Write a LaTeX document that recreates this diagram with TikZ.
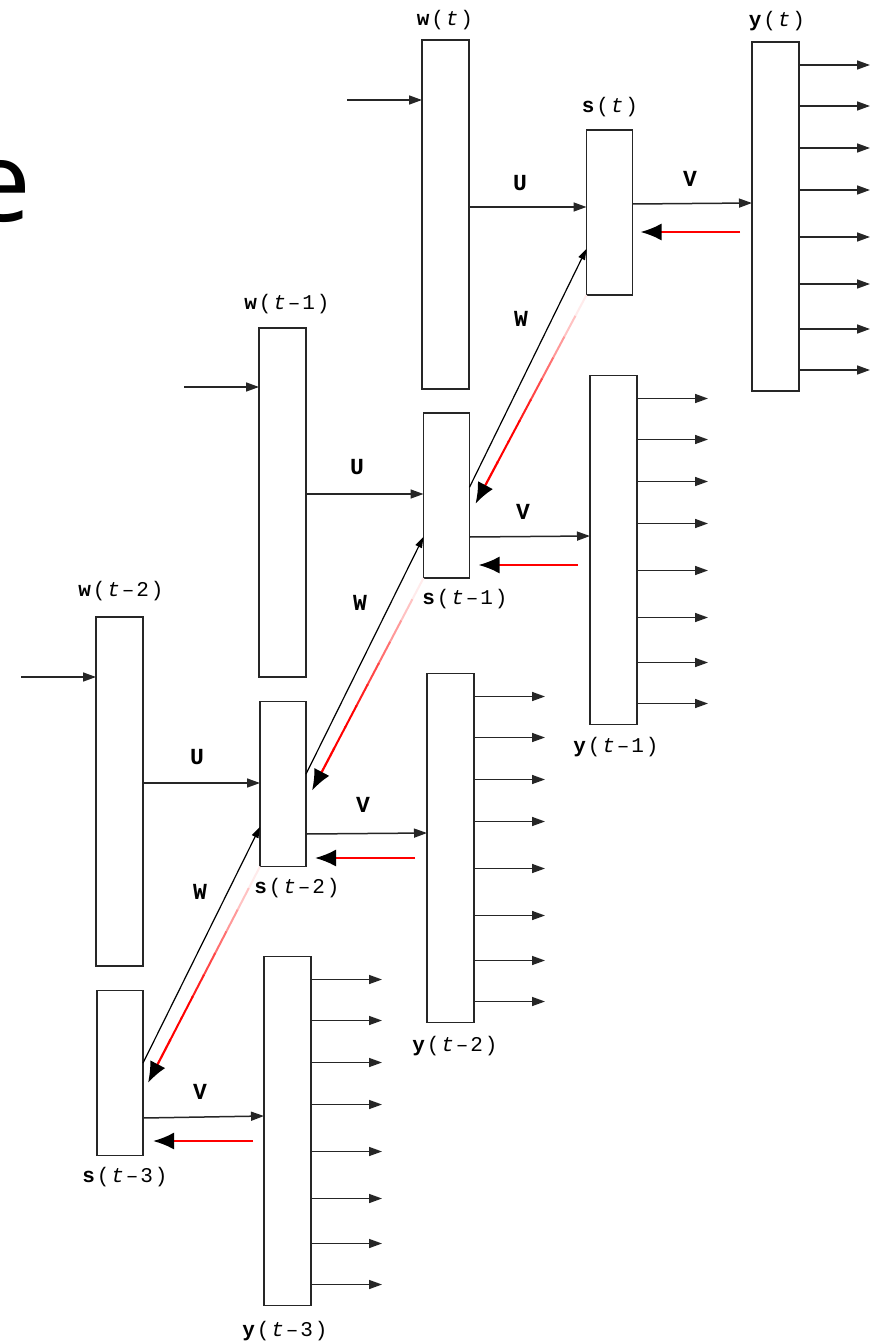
\documentclass[tikz,border=0pt]{standalone}
\usepackage{fontspec}
\usetikzlibrary{arrows.meta,calc}
\newfontfamily\lblfont{Liberation Mono}
\newfontfamily\bigfont{Open Sans}
\newcommand\cc[1]{\makebox[14.5pt]{#1}}
\newcommand\lbl[2]{\cc{\bfseries #1}\cc{(}\cc{\itshape t}#2\cc{)}}
\newcommand\mn[1]{\cc{\symbol{"2013}}\cc{#1}}
\newcommand\fadeline[2]{%
  \foreach \k in {0,...,7} {%
    \pgfmathsetmacro\pc{min(100,8+\k*16)}%
    \draw[red!\pc, line width=2pt] ($(#1)!{\k/10}!(#2)$) -- ($(#1)!{\k/10+0.105}!(#2)$);
  }%
  \draw[fb] ($(#1)!0.8!(#2)$) -- (#2);
}
\tikzset{
  every node/.style={inner sep=0pt, outer sep=0pt},
  layer/.style={draw=black!85, line width=1.8pt, fill=white, minimum width=47pt},
  wbox/.style={layer, minimum height=349pt},
  sbox/.style={layer, minimum width=46pt, minimum height=165pt},
  ybox/.style={layer, minimum height=349pt},
  arr/.style={draw=black!85, line width=1.5pt, -{Triangle[length=13pt,width=9pt]}},
  warr/.style={draw=black, line width=1.2pt, -{Triangle[length=11pt,width=7pt]}},
  fb/.style={draw=red, line width=2.2pt, -{Latex[length=21pt,width=17pt,color=black]}},
  lab/.style={font=\lblfont\fontsize{21}{21}\selectfont},
  mat/.style={font=\lblfont\bfseries\fontsize{23}{23}\selectfont},
}
\begin{document}
\begin{tikzpicture}[x=1pt,y=-1pt]
\useasboundingbox (0,0) rectangle (884,1343);
\fill[white] (0,0) rectangle (884,1343);
\begin{scope}
  \clip (0,0) rectangle (884,1343);
  \node[anchor=base east, font=\bigfont\fontsize{112}{112}\selectfont] (bige) at (31,221) {e};
\end{scope}

% boxes
\node[wbox] (wt)  at (445.5,214.5) {};
\node[sbox] (st)  at (609.5,212.5) {};
\node[ybox] (yt)  at (775.5,216.5) {};
\node[wbox] (wt1) at (282.5,502.5) {};
\node[sbox] (st1) at (446.5,495.5) {};
\node[ybox] (yt1) at (613.5,550) {};
\node[wbox] (wt2) at (119.5,791.5) {};
\node[sbox] (st2) at (283,784) {};
\node[ybox] (yt2) at (450.5,848) {};
\node[sbox] (st3) at (120,1073) {};
\node[ybox] (yt3) at (287.5,1131) {};

% labels
\node[lab] (lwt)  at (445,20)   {\lbl{w}{}};
\node[lab] (lst)  at (610,107)  {\lbl{s}{}};
\node[lab] (lyt)  at (777,21)   {\lbl{y}{}};
\node[lab] (lwt1) at (287,304)  {\lbl{w}{\mn{1}}};
\node[lab] (lst1) at (465,599)  {\lbl{s}{\mn{1}}};
\node[lab] (lyt1) at (616,747)  {\lbl{y}{\mn{1}}};
\node[lab] (lwt2) at (121,591)  {\lbl{w}{\mn{2}}};
\node[lab] (lst2) at (297,888)  {\lbl{s}{\mn{2}}};
\node[lab] (lyt2) at (455,1046) {\lbl{y}{\mn{2}}};
\node[lab] (lst3) at (125,1177) {\lbl{s}{\mn{3}}};
\node[lab] (lyt3) at (285,1331) {\lbl{y}{\mn{3}}};

\node[mat] (u0) at (520,183) {U};
\node[mat] (u1) at (357,467) {U};
\node[mat] (u2) at (197,757) {U};
\node[mat] (v0) at (690,179) {V};
\node[mat] (v1) at (523,512) {V};
\node[mat] (v2) at (363,805) {V};
\node[mat] (v3) at (200,1092) {V};
\node[mat] (m0) at (521,319) {W};
\node[mat] (m1) at (360,603) {W};
\node[mat] (m2) at (200,892) {W};

% inputs
\coordinate (iw0) at (347,100);
\coordinate (iw1) at (184,387);
\coordinate (iw2) at (21,677);
\draw[arr] (iw0) -- (wt.west |- iw0);
\draw[arr] (iw1) -- (wt1.west |- iw1);
\draw[arr] (iw2) -- (wt2.west |- iw2);

% U
\draw[arr] (wt.east |- 0,207) -- (st.west |- 0,207);
\draw[arr] (wt1.east |- 0,494) -- (st1.west |- 0,494);
\draw[arr] (wt2.east |- 0,783) -- (st2.west |- 0,783);

% V
\draw[arr] (st.east |- 0,204) -- (yt.west |- 0,203);
\draw[arr] (st1.east |- 0,537) -- (yt1.west |- 0,536);
\draw[arr] (st2.east |- 0,834) -- (yt2.west |- 0,833);
\draw[arr] (st3.east |- 0,1118) -- (yt3.west |- 0,1116);

% feedback from outputs
\draw[fb] ($(yt.west |- 0,232)+(-12,0)$) -- ($(st.east |- 0,232)+(8,0)$);
\draw[fb] ($(yt1.west |- 0,565)+(-12,0)$) -- ($(st1.east |- 0,565)+(9,0)$);
\draw[fb] ($(yt2.west |- 0,858)+(-12,0)$) -- ($(st2.east |- 0,858)+(9,0)$);
\draw[fb] ($(yt3.west |- 0,1141)+(-11,0)$) -- ($(st3.east |- 0,1141)+(10,0)$);

% outputs
\foreach \n in {yt,yt1,yt2,yt3}{
  \foreach \o in {23,64,106,148,195,242,287,328}{
    \draw[arr] ($(\n.north east)+(0,\o)$) -- ++(71,0);
  }
}

% recurrent W
\draw[warr] ($(st1.north east)!0.45!(st1.south east)$) -- ($(st.north west)!0.72!(st.south west)$);
\draw[warr] ($(st2.north east)!0.44!(st2.south east)$) -- ($(st1.north west)!0.75!(st1.south west)$);
\draw[warr] ($(st3.north east)!0.44!(st3.south east)$) -- ($(st2.north west)!0.76!(st2.south west)$);

\coordinate (rb1) at ($(st1.north east)!0.55!(st1.south east)+(6,0)$);
\coordinate (rb2) at ($(st2.north east)!0.54!(st2.south east)+(6,0)$);
\coordinate (rb3) at ($(st3.north east)!0.56!(st3.south east)+(5,0)$);
\fadeline{st.south west}{rb1}
\fadeline{st1.south west}{rb2}
\fadeline{st2.south west}{rb3}
\end{tikzpicture}
\end{document}
